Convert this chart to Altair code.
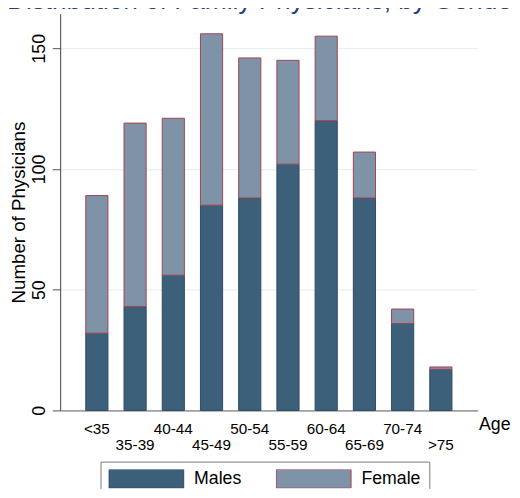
import altair as alt
import pandas as pd

ages = ["<35", "35-39", "40-44", "45-49", "50-54", "55-59", "60-64", "65-69", "70-74", ">75"]
males = [32, 43, 56, 85, 88, 102, 120, 88, 36, 17]
females = [57, 76, 65, 71, 58, 43, 35, 19, 6, 1]
sexes = ["Males", "Female"]
title_text = "Distribution of Family Physicians, by Gender"

rows = []
for a, m, f in zip(ages, males, females):
    rows.append({"age": a, "sex": "Males", "n": m, "ord": 0})
    rows.append({"age": a, "sex": "Female", "n": f, "ord": 1})
df = pd.DataFrame(rows)

FONT = "Liberation Sans"
odd_labels = ages[1::2]
odd_test = "indexof([" + ",".join("'" + s + "'" for s in odd_labels) + "], datum.value) >= 0"

legend = alt.Legend(
    orient="none", legendX=41, legendY=455, direction="horizontal", title=None,
    symbolType="M-1,-0.25H1V0.25H-1Z", symbolSize=5776, symbolStrokeWidth=1,
    symbolOpacity=1, clipHeight=19, labelFontSize=18, labelFont=FONT,
    labelColor="black", labelOffset=10, columnPadding=34, padding=8,
    strokeColor="#7a7a7a", fillColor="white",
)

bars = alt.Chart(df).mark_bar(strokeWidth=1, opacity=1).encode(
    x=alt.X("age:N", sort=ages,
            scale=alt.Scale(paddingInner=0.42, paddingOuter=0.67),
            axis=alt.Axis(title="Age", titleX=425, titleY=19, titleAlign="left",
                          titleBaseline="alphabetic", titleFontSize=18,
                          titleFontWeight="normal", titleFont=FONT, titleColor="black",
                          labelAngle=0, labelFontSize=15.5, labelFont=FONT,
                          labelColor="black", labelBaseline="top",
                          labelPadding={"condition": {"test": odd_test, "value": 28}, "value": 11},
                          ticks=False, tickSize=0, grid=False,
                          domainColor="#606060", domainWidth=1)),
    y=alt.Y("n:Q", stack="zero",
            scale=alt.Scale(domain=[0, 164.3], nice=False, zero=True),
            axis=alt.Axis(title="Number of Physicians", values=[0, 50, 100, 150],
                          titleX=-36, titleY=201.5, titleAngle=270, titleAlign="center",
                          titleBaseline="alphabetic", titleFontSize=19,
                          titleFontWeight="normal", titleFont=FONT, titleColor="black",
                          labelAngle=270, labelAlign="center", labelBaseline="alphabetic",
                          labelPadding=8, labelFontSize=18, labelFont=FONT,
                          labelColor="black", tickSize=8, tickColor="#505050",
                          grid=True, gridColor="#e4ecee", gridWidth=1,
                          domainColor="#404040", domainWidth=1)),
    color=alt.Color("sex:N", scale=alt.Scale(domain=sexes, range=["#3d607a", "#7e93a8"]),
                    legend=legend),
    stroke=alt.Stroke("sex:N", scale=alt.Scale(domain=sexes, range=["#2c4b68", "#a3434f"]),
                      legend=legend),
    order=alt.Order("ord:Q"),
)

title = alt.Chart(pd.DataFrame({"t": [title_text]})).mark_text(
    align="left", baseline="alphabetic", fontSize=26.6, font=FONT, color="#22407a"
).encode(x=alt.value(-54), y=alt.value(-5), text="t:N")

chart = alt.layer(bars, title).properties(
    width=424, height=403,
    background="white",
    autosize=alt.AutoSizeParams(type="none"),
    padding={"left": 53, "top": 2, "right": 35, "bottom": 76},
).configure_view(stroke=None)

chart.save("out.html", embed_options={"renderer": "svg", "actions": False})
